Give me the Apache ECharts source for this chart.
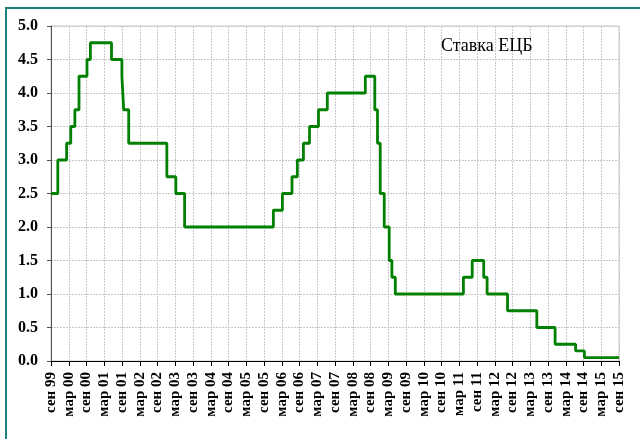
<!DOCTYPE html>
<html><head><meta charset="utf-8">
<script src="https://cdn.jsdelivr.net/npm/echarts@6/dist/echarts.min.js"></script>
<style>html,body{margin:0;padding:0;background:#fff}#c{width:640px;height:439px}</style>
</head><body><div id="c"></div>
<script>
// Effective dates of ECB main refinancing rate changes (start of view: Sep 1999)
const changeDates = ['1999-09-01','1999-11-10','2000-02-09','2000-03-22','2000-05-03','2000-06-15','2000-09-06','2000-10-11','2001-05-15','2001-08-31','2001-09-18','2001-11-09','2002-12-06','2003-03-07','2003-06-06','2005-12-06','2006-03-08','2006-06-15','2006-08-09','2006-10-11','2006-12-13','2007-03-14','2007-06-13','2008-07-09','2008-10-15','2008-11-12','2008-12-10','2009-01-21','2009-03-11','2009-04-08','2009-05-13','2011-04-13','2011-07-13','2011-11-09','2011-12-14','2012-07-11','2013-05-08','2013-11-13','2014-06-11','2014-09-10','2015-09-01'];
const rates = [2.5,3.0,3.25,3.5,3.75,4.25,4.5,4.75,4.5,4.25,3.75,3.25,2.75,2.5,2.0,2.25,2.5,2.75,3.0,3.25,3.5,3.75,4.0,4.25,3.75,3.25,2.5,2.0,1.5,1.25,1.0,1.25,1.5,1.25,1.0,0.75,0.5,0.25,0.15,0.05,0.05];
const tickLabels = ['сен 99','мар 00','сен 00','мар 01','сен 01','мар 02','сен 02','мар 03','сен 03','мар 04','сен 04','мар 05','сен 05','мар 06','сен 06','мар 07','сен 07','мар 08','сен 08','мар 09','сен 09','мар 10','сен 10','мар 11','сен 11','мар 12','сен 12','мар 13','сен 13','мар 14','сен 14','мар 15','сен 15'];
const seriesName = 'Ставка ЕЦБ';

function monthIndex(s){
  const [y,m,d] = s.split('-').map(Number);
  const dim = new Date(y, m, 0).getDate();
  return (y-1999)*12 + (m-9) + (d-1)/dim;
}
const data = changeDates.map((d,i)=>[monthIndex(d), rates[i]]);

const chart = echarts.init(document.getElementById('c'));
const serif = 'Liberation Serif, Times New Roman, serif';
chart.setOption({
  animation:false,
  backgroundColor:'#fff',
  title:{text:seriesName, left:436, top:32, textStyle:{fontFamily:serif, fontSize:18, fontWeight:'normal', color:'#000'}},
  graphic:[{type:'rect', shape:{x:6,y:8,width:700,height:500}, style:{fill:'none', stroke:'#1f8080', lineWidth:2}, silent:true, z:100}],
  grid:{left:51, right:21, top:26, bottom:78, show:true, borderColor:'#c8c8c8', borderWidth:1},
  xAxis:{type:'value', min:0, max:192, interval:6,
    axisLine:{show:true, onZero:false, lineStyle:{color:'#000', width:1}},
    axisTick:{show:true, length:5, lineStyle:{color:'#000'}},
    axisLabel:{rotate:90, margin:11, fontFamily:serif, fontWeight:'bold', fontSize:15, color:'#000',
      formatter:v=>tickLabels[Math.round(v/6)]},
    splitLine:{show:true, lineStyle:{color:'#c8c8c8', type:[2,1], width:1}}},
  yAxis:{type:'value', min:0, max:5, interval:0.5,
    axisLine:{show:true, lineStyle:{color:'#505050', width:1}},
    axisTick:{show:true, length:4, lineStyle:{color:'#505050'}},
    axisLabel:{margin:13, fontFamily:serif, fontWeight:'bold', fontSize:16, color:'#000', formatter:v=>v.toFixed(1)},
    splitLine:{show:true, lineStyle:{color:'#c8c8c8', type:[2,1], width:1}}},
  series:[{name:seriesName, type:'line', step:'end', data:data, showSymbol:false, symbol:'none',
    lineStyle:{color:'#008000', width:2.8}, z:5}]
});
</script></body></html>
